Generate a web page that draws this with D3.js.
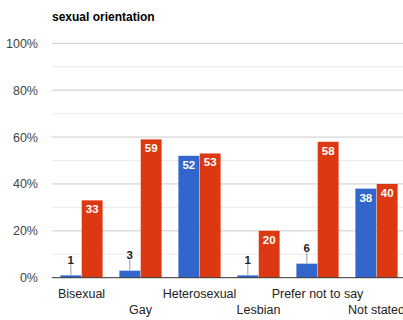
<!DOCTYPE html>
<html>
<head>
<meta charset="utf-8">
<script src="https://cdnjs.cloudflare.com/ajax/libs/d3/7.8.5/d3.min.js"></script>
<style>
  html, body { margin: 0; padding: 0; background: #fff; }
  svg { display: block; font-family: Arial, "Liberation Sans", sans-serif; }
</style>
</head>
<body>
<svg id="chart" width="403" height="320"></svg>
<script>
// Sexual orientation: two series per category, in percent
const categories = ["Bisexual", "Gay", "Heterosexual", "Lesbian", "Prefer not to say", "Not stated"];
const seriesNames = ["A", "B"];
const seriesA = [1, 3, 52, 1, 6, 38];
const seriesB = [33, 59, 53, 20, 58, 40];
const yTicks = [0, 20, 40, 60, 80, 100];
const yMinorTicks = [10, 30, 50, 70, 90];
const colors = ["#3366cc", "#dc3912"];

const svg = d3.select("#chart");
const margin = { left: 52, right: -3, top: 43.3, bottom: 42.3 };
const W = 403, H = 320;

const x = d3.scaleBand().domain(categories).range([margin.left, W - margin.right]).paddingInner(0.27).paddingOuter(0.135);
const xs = d3.scaleBand().domain(seriesNames).range([0, x.bandwidth()]).padding(0.02);
const y = d3.scaleLinear().domain([0, 100]).range([H - margin.bottom, margin.top]);

// title
svg.append("text").attr("x", 52).attr("y", 21).attr("font-size", 12).attr("font-weight", "bold")
  .attr("fill", "#000").text("sexual orientation");

// gridlines
svg.append("g").selectAll("line").data(yMinorTicks).join("line")
  .attr("x1", margin.left).attr("x2", W).attr("y1", d => y(d)).attr("y2", d => y(d))
  .attr("stroke", "#ebebeb").attr("stroke-width", 1);
svg.append("g").selectAll("line").data(yTicks.filter(d => d > 0)).join("line")
  .attr("x1", margin.left).attr("x2", W).attr("y1", d => y(d)).attr("y2", d => y(d))
  .attr("stroke", "#cccccc").attr("stroke-width", 1);

// y axis labels
const yAxis = d3.axisLeft(y).tickValues(yTicks).tickFormat(d => d + "%").tickSize(0).tickPadding(14);
const gy = svg.append("g").attr("transform", `translate(${margin.left},0)`).call(yAxis);
gy.select(".domain").remove();
gy.selectAll("text").attr("font-size", 12.5).attr("fill", "#444").attr("font-family", "Arial, 'Liberation Sans', sans-serif");

// bars
const rows = categories.map((c, i) => ({ c, vals: [seriesA[i], seriesB[i]] }));
const groups = svg.append("g").selectAll("g").data(rows).join("g")
  .attr("transform", d => `translate(${x(d.c)},0)`);

groups.selectAll("rect").data(d => d.vals.map((v, j) => ({ v, s: seriesNames[j], j }))).join("rect")
  .attr("x", d => xs(d.s)).attr("width", xs.bandwidth())
  .attr("y", d => y(d.v)).attr("height", d => y(0) - y(d.v))
  .attr("fill", d => colors[d.j]);

// value labels: inside bar when tall enough, otherwise above with a leader line
groups.each(function (d) {
  const g = d3.select(this);
  d.vals.forEach((v, j) => {
    const cx = xs(seriesNames[j]) + xs.bandwidth() / 2;
    const h = y(0) - y(v);
    if (h > 20) {
      g.append("text").attr("x", cx).attr("y", y(v) + 13).attr("text-anchor", "middle")
        .attr("font-size", 11.5).attr("font-weight", "bold").attr("fill", "#fff").text(v);
    } else {
      g.append("line").attr("x1", cx).attr("x2", cx).attr("y1", y(v)).attr("y2", y(v) - 11)
        .attr("stroke", "#999").attr("stroke-width", 1);
      g.append("text").attr("x", cx).attr("y", y(v) - 11.5).attr("text-anchor", "middle")
        .attr("font-size", 11.5).attr("font-weight", "bold").attr("fill", "#222").text(v);
    }
  });
});

// baseline
svg.append("line").attr("x1", margin.left).attr("x2", W).attr("y1", y(0)).attr("y2", y(0))
  .attr("stroke", "#333").attr("stroke-width", 1);

// category labels, staggered on two rows
svg.append("g").selectAll("text").data(categories).join("text")
  .attr("x", d => x(d) + x.bandwidth() / 2)
  .attr("y", (d, i) => i % 2 === 0 ? 298 : 314)
  .attr("text-anchor", "middle").attr("font-size", 12.5).attr("fill", "#222")
  .text(d => d);
</script>
</body>
</html>
